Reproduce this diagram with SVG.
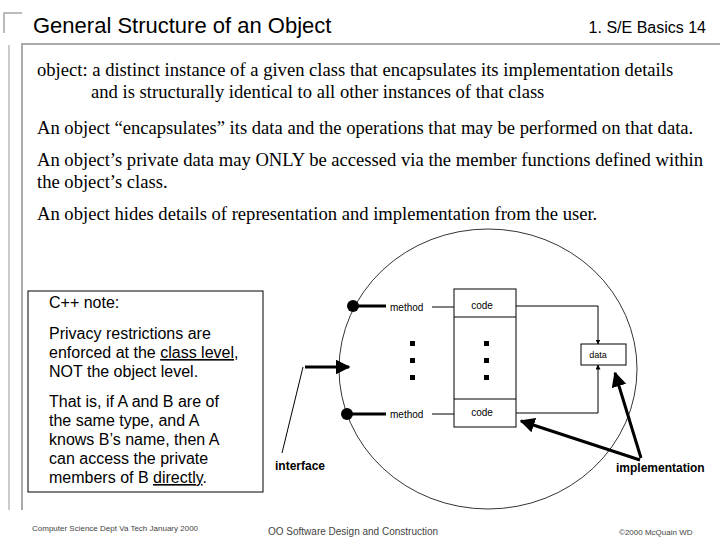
<svg xmlns="http://www.w3.org/2000/svg" width="720" height="540" viewBox="0 0 720 540">
<defs>
<style>
.s{font-family:"Liberation Serif",serif;font-size:18.6px}
.a{font-family:"Liberation Sans",Arial,sans-serif}
.thin{stroke:#000;stroke-width:1;fill:none}
.thick{stroke:#000;stroke-width:3;fill:none}
</style>
<marker id="ar" viewBox="0 0 10 10" refX="9" refY="5" markerWidth="5" markerHeight="5" orient="auto"><path d="M0,0L10,5L0,10z" fill="#000"/></marker>
</defs>
<rect width="720" height="540" fill="#fff"/>
<g id="frame">
<path d="M4,33V13H22" stroke="#bbb" stroke-width="2" fill="none"/>
<path d="M22,510V44H720" stroke="#aaa" stroke-width="2" fill="none"/>
<path d="M9,45V510" stroke="#ccc" stroke-width="2"/>
</g>
<text class="a" x="33" y="33" font-size="22">General Structure of an Object</text>
<text class="a" x="706" y="33" font-size="16" text-anchor="end">1. S/E Basics  14</text>
<g id="object">
<ellipse cx="488" cy="369" rx="149" ry="140" fill="#fff" stroke="#000" stroke-width="0.8"/>
</g>
<g class="s">
<text x="37" y="76">object: a distinct instance of a given class that encapsulates its implementation details</text>
<text x="91" y="98">and is structurally identical to all other instances of that class</text>
<text x="37" y="134">An object “encapsulates” its data and the operations that may be performed on that data.</text>
<text x="37" y="166">An object’s private data may ONLY be accessed via the member functions defined within</text>
<text x="37" y="188">the object’s class.</text>
<text x="37" y="220">An object hides details of representation and implementation from the user.</text>
</g>
<g id="note">
<rect x="28" y="291" width="235" height="201" fill="#fff" stroke="#000"/>
<g class="a" font-size="16">
<text x="49" y="308">C++ note:</text>
<text x="49" y="339">Privacy restrictions are</text>
<text x="49" y="358">enforced at the <tspan text-decoration="underline">class level</tspan>,</text>
<text x="49" y="377">NOT the object level.</text>
<text x="49" y="407">That is, if A and B are of</text>
<text x="49" y="426">the same type, and A</text>
<text x="49" y="445">knows B’s name, then A</text>
<text x="49" y="464">can access the private</text>
<text x="49" y="483">members of B <tspan text-decoration="underline">directly</tspan>.</text>
</g>
</g>
<g id="code">
<rect x="454" y="289" width="62" height="138" fill="#fff" stroke="#000"/>
<path d="M454,317H516M454,399H516" class="thin"/>
<text class="a" x="482" y="309" font-size="10" text-anchor="middle">code</text>
<text class="a" x="482" y="416" font-size="10" text-anchor="middle">code</text>
</g>
<g id="data">
<rect x="581" y="344" width="45" height="21" fill="#fff" stroke="#000"/>
<text class="a" x="598" y="358" font-size="9" text-anchor="middle">data</text>
</g>
<g id="methods">
<circle cx="353" cy="306" r="6"/>
<circle cx="347" cy="414" r="6"/>
<text class="a" x="390" y="311" font-size="10">method</text>
<text class="a" x="390" y="418" font-size="10">method</text>
<g fill="#000"><rect x="410" y="341" width="5" height="5"/><rect x="410" y="358" width="5" height="5"/><rect x="410" y="375" width="5" height="5"/>
<rect x="484" y="341" width="5" height="5"/><rect x="484" y="358" width="5" height="5"/><rect x="484" y="375" width="5" height="5"/></g>
</g>
<g id="labels" class="a" font-size="12" font-weight="bold">
<text x="275" y="470">interface</text>
<text x="616" y="472">implementation</text>
</g>
<g id="connectors">
<path d="M353,306H386M347,414H386" class="thick"/>
<path d="M432,307H454M432,414H454" class="thin"/>
<path d="M516,306H598V344" class="thin" stroke-width="1.5" marker-end="url(#ar)"/>
<path d="M516,413H598V365" class="thin" stroke-width="1.5" marker-end="url(#ar)"/>
<path d="M282,453L303,367" class="thin"/>
<path d="M305,367H349" class="thick" stroke-width="2" marker-end="url(#ar)"/>
<path d="M640,460L521,421" class="thick" stroke-width="2.5" marker-end="url(#ar)"/>
<path d="M641,458L615,373" class="thick" stroke-width="2.5" marker-end="url(#ar)"/>
</g>
<g class="a" font-size="8" fill="#444">
<text x="32" y="531">Computer Science Dept Va Tech January 2000</text>
<text x="268" y="535" font-size="10">OO Software Design and Construction</text>
<text x="619" y="535">©2000  McQuain WD</text>
</g>
</svg>
